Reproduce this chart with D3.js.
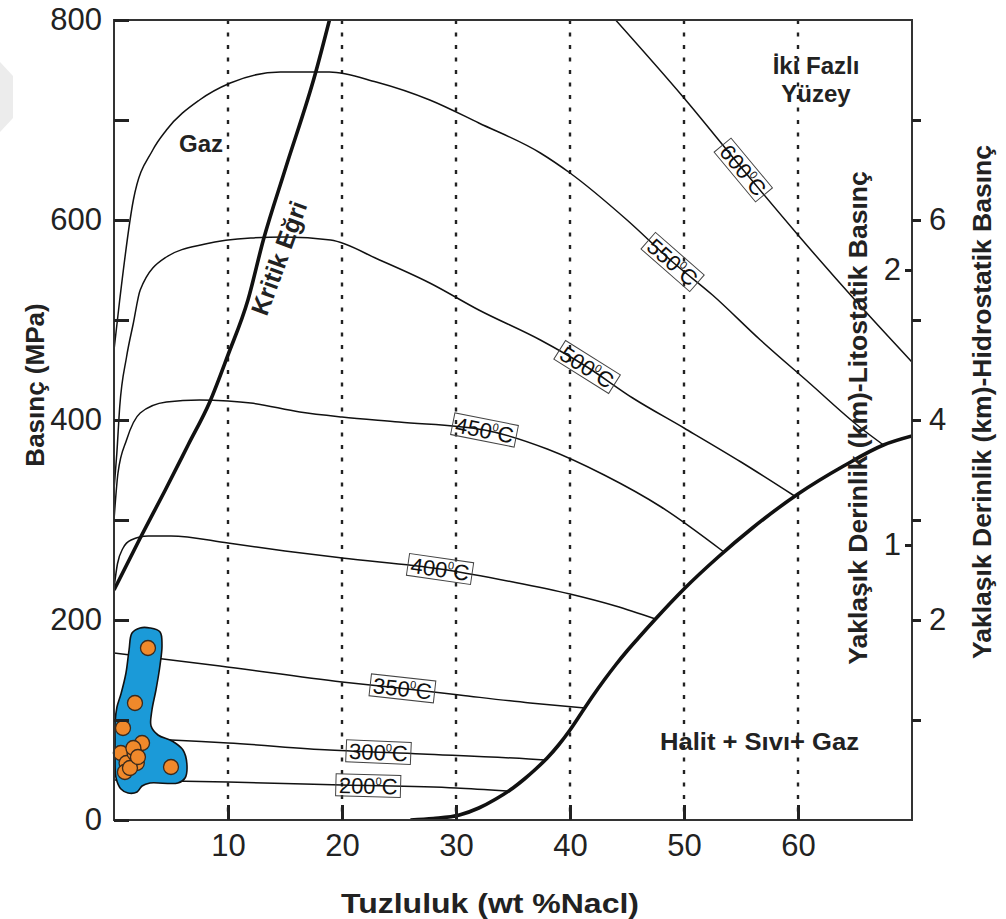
<!DOCTYPE html>
<html>
<head>
<meta charset="utf-8">
<script src="https://cdn.jsdelivr.net/npm/d3@7"></script>
<style>
  body { margin: 0; background: #fff; }
  svg { display: block; }
  text { font-family: "Liberation Sans", Arial, Helvetica, sans-serif; }
</style>
</head>
<body>
<svg id="chart" width="1006" height="919"></svg>
<script>
// Salinity (wt % NaCl) axis
const salinityTicks = [10, 20, 30, 40, 50, 60];
// Pressure (MPa) axis
const pressureTicks = [0, 100, 200, 300, 400, 500, 600, 700, 800];
const pressureLabels = [0, 200, 400, 600, 800];
// Depth scales (km): hydrostatic and lithostatic
const hydroTicks = [1, 2, 3, 4, 5, 6, 7];
const hydroLabels = [2, 4, 6];
const lithoTicks = [1, 2];

// Isochores: [salinity, pressure]
const iso200 = [[0,40],[10,38],[20,35],[30,32],[34.5,29]];
const iso300 = [[0,84],[5,80],[10,77],[18.9,70],[27,66],[36.4,61],[37.8,60]];
const iso350 = [[0,167],[9.3,154],[20,138],[25,132],[30.3,125],[36.5,117],[41.3,112]];
const iso400 = [[0,232],[0.3,256],[0.8,272],[1.5,280],[3,284],[5,284],[10,277],[15,269],[20,262],[28.6,251],[35,238],[40,226],[44,214],[47.5,201]];
const iso450 = [[0,300],[0.35,347],[1.1,380],[2.3,407],[4.6,418],[7.5,420],[10,419],[12,417],[16.3,408],[20,403],[25,398],[32.5,390],[38,371],[43,345],[48,313],[53.5,268]];
const iso500 = [[0,330],[0.25,367],[0.5,413],[1.1,463],[1.7,497],[2.3,530],[4.6,563],[8,576],[12,582],[15,583],[19,580],[23.3,560],[27.7,537],[32,510],[37.4,480],[41.5,453],[45.5,422],[50,392],[55,358],[59.7,324]];
const iso550 = [[0,470],[0.5,520],[1.7,620],[3.4,670],[4.6,690],[7.5,720],[10.2,737],[14.6,748],[18.9,748],[23,738],[27.7,720],[32,697],[37.4,667],[40,647],[45,600],[49,558],[52.5,525],[56.7,480],[61,437],[65.4,393],[67.5,375]];
const iso600 = [[44,800],[50,722],[55.2,650],[60,585],[65,520],[70,458]];
const isoTemps = [200, 300, 350, 400, 450, 500, 550, 600];
const isoLabelAt = [22.3, 23.2, 25.3, 28.6, 32.5, 41.5, 49, 55.2];

// Critical curve and halite saturation curve
const criticalCurve = [[0,230],[2.3,282],[4.5,330],[6.5,375],[8.4,418],[10,465],[11.75,520],[13.1,580],[15,650],[17.7,748],[18.9,800]];
const haliteCurve = [[26,0],[28,1.5],[30.3,5],[32,12],[33.5,21],[35,32],[36,41],[37,51],[38,62],[39,75],[40,90],[41,107],[42,124],[43,140],[44,155],[45,169],[46,182],[47.5,201],[50,231],[53,263],[56,292],[60,326],[64,354],[67.5,375],[70,384]];

// Fluid inclusion field outline and measurements
const inclusionField = [[1.58,187],[2.28,192],[3.16,192],[4.04,188],[4.21,175],[4.04,155],[3.68,130],[3.33,110],[3.25,94],[3.86,85],[5.09,79],[6.05,70],[6.4,55],[6.23,42],[5.61,37],[3.16,37],[2.46,34],[2.02,28],[1.23,27],[0.61,31],[0.18,42],[0.09,60],[0.09,80],[0.09,97],[0.26,113],[0.61,126],[1.05,147],[1.32,170]];
const inclusionX = [2.98, 1.84, 0.79, 2.46, 5.0, 0.6, 1.1, 1.8, 2.0, 0.96, 1.4, 1.7, 2.1];
const inclusionP = [172, 117, 92, 77, 53, 67, 57, 67, 57, 48, 52, 72, 63];

const svg = d3.select("#chart");
const x = d3.scaleLinear().domain([0, 70]).range([114, 912]);
const y = d3.scaleLinear().domain([0, 800]).range([820, 20]);
const yHydro = d3.scaleLinear().domain([0, 8]).range([820, 20]);
const yLitho = d3.scaleLinear().domain([0, 800 / 275]).range([820, 20]);

svg.append("defs").append("clipPath").attr("id", "plot")
  .append("rect").attr("x", 114).attr("y", 20).attr("width", 798).attr("height", 800);

// faint corner mark
svg.append("path").attr("d", "M0,62 L13,76 L13,118 L0,132 Z").attr("fill", "#ececec");

const plot = svg.append("g").attr("clip-path", "url(#plot)");

// dotted salinity guides
plot.selectAll("line.guide").data(salinityTicks).join("line")
  .attr("x1", d => x(d)).attr("x2", d => x(d))
  .attr("y1", y(800)).attr("y2", y(0))
  .attr("stroke", "#222").attr("stroke-width", 2.4)
  .attr("stroke-dasharray", "4,8.5");

const line = d3.line().x(d => x(d[0])).y(d => y(d[1])).curve(d3.curveMonotoneX);

const isochores = [iso200, iso300, iso350, iso400, iso450, iso500, iso550, iso600];
plot.selectAll("path.iso").data(isochores).join("path")
  .attr("d", line).attr("fill", "none").attr("stroke", "#111").attr("stroke-width", 1.5);

plot.append("path").datum(criticalCurve).attr("d", line)
  .attr("fill", "none").attr("stroke", "#111").attr("stroke-width", 3.6);
plot.append("path").datum(haliteCurve).attr("d", line)
  .attr("fill", "none").attr("stroke", "#111").attr("stroke-width", 3.6);

// inclusion field
const blob = d3.line().x(d => x(d[0])).y(d => y(d[1])).curve(d3.curveCatmullRomClosed.alpha(0.5));
svg.append("path").datum(inclusionField).attr("d", blob)
  .attr("fill", "#1b9ad8").attr("stroke", "#111").attr("stroke-width", 1.6);
svg.selectAll("circle.fi").data(inclusionX).join("circle")
  .attr("cx", d => x(d)).attr("cy", (d, i) => y(inclusionP[i])).attr("r", 7.5)
  .attr("fill", "#f0892b").attr("stroke", "#3b2a1c").attr("stroke-width", 1.3);

// isochore labels
function valueAt(data, s) {
  for (let i = 1; i < data.length; i++) {
    if (s <= data[i][0]) {
      const a = data[i - 1], b = data[i];
      return a[1] + (b[1] - a[1]) * (s - a[0]) / (b[0] - a[0]);
    }
  }
  return data[data.length - 1][1];
}
isoTemps.forEach((t, i) => {
  const data = isochores[i];
  const s = isoLabelAt[i];
  const cx = x(s), cy = y(valueAt(data, s));
  const dx = x(s + 1.5) - x(s - 1.5);
  const dy = y(valueAt(data, s + 1.5)) - y(valueAt(data, s - 1.5));
  const ang = Math.atan2(dy, dx) * 180 / Math.PI;
  const g = svg.append("g").attr("transform", `translate(${cx},${cy}) rotate(${ang})`);
  const txt = g.append("text").attr("text-anchor", "middle").attr("y", 8)
    .attr("font-size", 22).attr("fill", "#111");
  txt.append("tspan").text(t);
  txt.append("tspan").attr("dy", -9).attr("font-size", 11).text("0");
  txt.append("tspan").attr("dy", 9).text("C");
  const w = txt.node().getComputedTextLength() + 6;
  g.insert("rect", "text").attr("x", -w / 2).attr("y", -11).attr("width", w).attr("height", 22)
    .attr("fill", "none").attr("stroke", "#444").attr("stroke-width", 1);
});

// frame
svg.append("rect").attr("x", 114).attr("y", 20).attr("width", 798).attr("height", 800)
  .attr("fill", "none").attr("stroke", "#333").attr("stroke-width", 2);

function styleAxis(g, size) {
  g.select(".domain").remove();
  g.selectAll(".tick line").attr("stroke", "#222").attr("stroke-width", 3);
  g.selectAll(".tick text").attr("font-size", size).attr("fill", "#222")
    .attr("font-family", "'Liberation Sans', Arial, sans-serif");
}

svg.append("g").attr("transform", `translate(114,0)`)
  .call(d3.axisLeft(y).tickValues(pressureTicks).tickSize(-15).tickPadding(12)
    .tickFormat(d => pressureLabels.includes(d) ? d : ""))
  .call(g => styleAxis(g, 31));

svg.append("g").attr("transform", `translate(0,820)`)
  .call(d3.axisBottom(x).tickValues(salinityTicks).tickSize(-15).tickPadding(14))
  .call(g => styleAxis(g, 31));

svg.append("g").attr("transform", `translate(912,0)`)
  .call(d3.axisRight(yHydro).tickValues(hydroTicks).tickSize(9).tickPadding(8)
    .tickFormat(d => hydroLabels.includes(d) ? d : ""))
  .call(g => styleAxis(g, 31));

svg.append("g").attr("transform", `translate(912,0)`)
  .call(d3.axisLeft(yLitho).tickValues(lithoTicks).tickSize(7).tickPadding(4)
    .tickFormat(d3.format("d")))
  .call(g => styleAxis(g, 31));

// axis titles
svg.append("text").attr("x", 490).attr("y", 913).attr("text-anchor", "middle")
  .attr("font-size", 28).attr("font-weight", "bold").attr("fill", "#222")
  .attr("textLength", 298).attr("lengthAdjust", "spacingAndGlyphs")
  .text("Tuzluluk (wt %Nacl)");
svg.append("text").attr("transform", "translate(44,385) rotate(-90)").attr("text-anchor", "middle")
  .attr("font-size", 26).attr("font-weight", "bold").attr("fill", "#222")
  .text("Basınç (MPa)");
svg.append("text").attr("transform", "translate(867,418) rotate(-90)").attr("text-anchor", "middle")
  .attr("font-size", 26.5).attr("font-weight", "bold").attr("fill", "#222")
  .text("Yaklaşık Derinlik (km)-Litostatik Basınç");
svg.append("text").attr("transform", "translate(991,402) rotate(-90)").attr("text-anchor", "middle")
  .attr("font-size", 26.5).attr("font-weight", "bold").attr("fill", "#222")
  .text("Yaklaşık Derinlik (km)-Hidrostatik Basınç");

// region labels
const bold = (sel) => sel.attr("font-weight", "bold").attr("fill", "#222");
svg.append("text").attr("x", 179).attr("y", 152).attr("font-size", 24).call(bold).text("Gaz");
svg.append("text").attr("x", 816).attr("y", 74).attr("font-size", 24).attr("text-anchor", "middle").call(bold).text("İki Fazlı");
svg.append("text").attr("x", 816).attr("y", 102).attr("font-size", 24).attr("text-anchor", "middle").call(bold).text("Yüzey");
svg.append("text").attr("x", 660).attr("y", 750).attr("font-size", 24).call(bold)
  .attr("textLength", 199).attr("lengthAdjust", "spacingAndGlyphs").text("Halit + Sıvı+ Gaz");
svg.append("text").attr("transform", "translate(279,258) rotate(-70)").attr("text-anchor", "middle")
  .attr("dy", "0.35em").attr("font-size", 25).call(bold).text("Kritik Eğri");
</script>
</body>
</html>
